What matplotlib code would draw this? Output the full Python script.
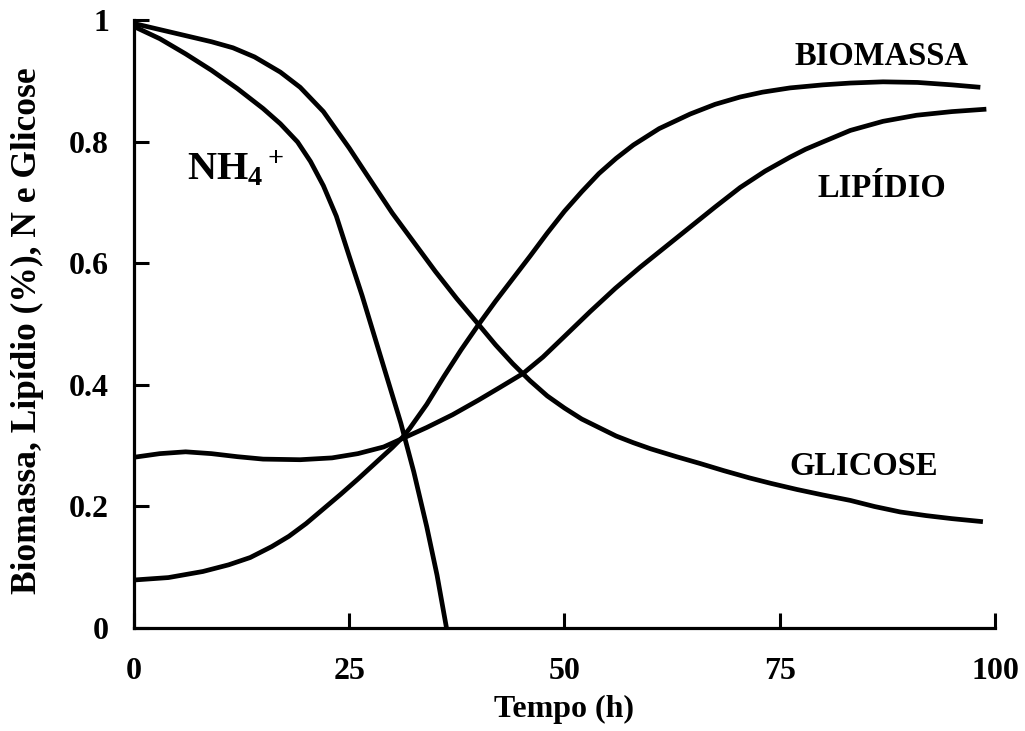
import matplotlib
matplotlib.use("Agg")
import matplotlib.pyplot as plt

# values (x = tempo in h)
nh4_x = [0, 3, 6, 9, 12, 15, 17, 19, 20.5, 22, 23.5, 25, 26.5, 28, 29.5, 31, 32.5, 34, 35.2, 36.3]
nh4_y = [0.99, 0.97, 0.945, 0.918, 0.888, 0.855, 0.83, 0.80, 0.768, 0.728, 0.678, 0.612, 0.547,
         0.477, 0.407, 0.337, 0.257, 0.167, 0.087, 0.0]

glic_x = [0, 3, 6, 9, 11.5, 14, 17, 19.3, 22, 25, 27, 30, 32.5, 35, 37.5, 40, 42, 44, 46, 48, 50,
          52, 54, 56, 58, 60, 63, 65.7, 68.5, 71.5, 74, 77, 80, 83.2, 86, 89, 92, 95, 98.6]
glic_y = [0.995, 0.985, 0.975, 0.965, 0.955, 0.94, 0.915, 0.89, 0.85, 0.79, 0.747, 0.683, 0.635,
          0.587, 0.542, 0.50, 0.466, 0.435, 0.407, 0.382, 0.362, 0.344, 0.33, 0.316, 0.305, 0.295,
          0.282, 0.271, 0.259, 0.247, 0.238, 0.228, 0.219, 0.21, 0.2, 0.191, 0.185, 0.18, 0.175]

bio_x = [0, 4, 8, 11, 13.5, 16, 18, 20, 22, 24, 26, 28, 30, 31.2, 32, 34, 36, 38, 40, 42, 44, 46,
         48, 50, 52, 54, 56, 58, 61, 64.6, 67.5, 70.4, 73, 76.2, 80, 83.2, 87, 91, 95, 98.3]
bio_y = [0.079, 0.083, 0.093, 0.104, 0.116, 0.134, 0.151, 0.172, 0.196, 0.22, 0.245, 0.271, 0.297,
         0.314, 0.328, 0.368, 0.414, 0.458, 0.499, 0.538, 0.575, 0.612, 0.65, 0.686, 0.718, 0.748,
         0.773, 0.795, 0.822, 0.846, 0.862, 0.874, 0.882, 0.889, 0.894, 0.897, 0.899, 0.898, 0.894,
         0.89]

lip_x = [0, 3, 6, 9, 12, 15, 19.3, 23, 26, 29, 31.2, 34, 37, 40, 42.5, 45.2, 47.5, 50, 53, 55.9,
         58.8, 61.7, 64.6, 67.5, 70.4, 73.3, 76.2, 78, 80, 83.2, 87, 90.9, 95, 99]
lip_y = [0.281, 0.287, 0.29, 0.287, 0.282, 0.278, 0.277, 0.28, 0.287, 0.298, 0.312, 0.33, 0.351,
         0.375, 0.396, 0.419, 0.446, 0.48, 0.521, 0.559, 0.594, 0.627, 0.66, 0.693, 0.725, 0.752,
         0.775, 0.788, 0.80, 0.819, 0.834, 0.844, 0.85, 0.854]

x_ticks = [0, 25, 50, 75, 100]
y_ticks = [0, 0.2, 0.4, 0.6, 0.8, 1]
y_ticklabels = ["0", "0.2", "0.4", "0.6", "0.8", "1"]

plt.rcParams["font.family"] = ["Liberation Serif", "DejaVu Serif"]
plt.rcParams["font.weight"] = "bold"
plt.rcParams["mathtext.fontset"] = "custom"
plt.rcParams["mathtext.rm"] = "Liberation Serif"
plt.rcParams["mathtext.it"] = "Liberation Serif:italic"
plt.rcParams["mathtext.bf"] = "Liberation Serif:bold"

fig = plt.figure(figsize=(10.25, 7.31), dpi=100)
ax = fig.add_axes([0.1307, 0.1409, 0.84, 0.8311])

line_kw = dict(color="black", lw=3.4, solid_joinstyle="round", solid_capstyle="butt")
ax.plot(nh4_x, nh4_y, **line_kw)
ax.plot(glic_x, glic_y, **line_kw)
ax.plot(bio_x, bio_y, **line_kw)
ax.plot(lip_x, lip_y, **line_kw)

ax.set_xlim(0, 100)
ax.set_ylim(0, 1)
ax.set_xticks(x_ticks)
ax.set_xticklabels([str(t) for t in x_ticks])
ax.set_yticks(y_ticks)
ax.set_yticklabels(y_ticklabels)

for side in ["top", "right"]:
    ax.spines[side].set_visible(False)
for side in ["left", "bottom"]:
    ax.spines[side].set_linewidth(2.3)

ax.tick_params(axis="both", direction="in", length=11, width=2.2, labelsize=23)
ax.tick_params(axis="y", pad=18)
ax.tick_params(axis="x", pad=21)

ax.set_xlabel("Tempo (h)", fontsize=23, fontweight="bold", labelpad=6)
ax.set_ylabel("Biomassa, Lipídio (%), N e Glicose", fontsize=25.5, fontweight="bold")
ax.yaxis.set_label_coords(-0.104, 0.49)

# curve labels
ax.text(86.8, 0.927, "BIOMASSA", fontsize=23.5, fontweight="bold", ha="center", va="baseline")
ax.text(86.9, 0.709, "LIPÍDIO", fontsize=23.5, fontweight="bold", ha="center", va="baseline")
ax.text(84.8, 0.252, "GLICOSE", fontsize=23.5, fontweight="bold", ha="center", va="baseline")
ax.text(6.2, 0.737, r"$\mathbf{NH_4{}^+}$", fontsize=29, ha="left", va="baseline")

fig.savefig("out.png", dpi=100, facecolor="white")
